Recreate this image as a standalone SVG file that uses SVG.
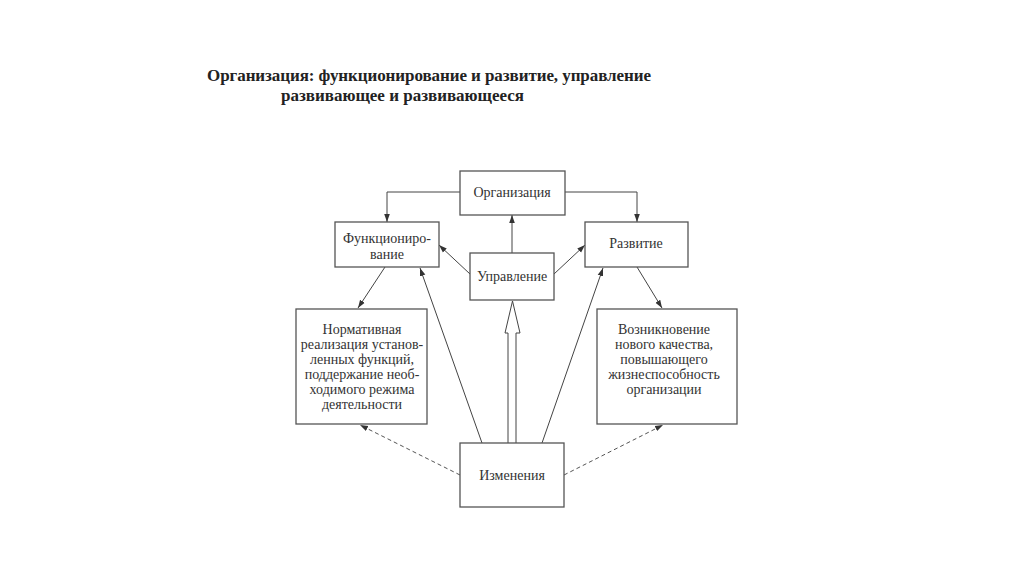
<svg xmlns="http://www.w3.org/2000/svg" width="1024" height="576" viewBox="0 0 1024 576">
<defs>
<style>
.box{fill:#fff;stroke:#555;stroke-width:1.3}
.t{font-family:"Liberation Serif","DejaVu Serif",serif;font-size:14px;fill:#333;text-anchor:middle}
.title{font-family:"Liberation Serif","DejaVu Serif",serif;font-size:17px;font-weight:bold;fill:#222}
.ln{fill:none;stroke:#444;stroke-width:1}
.dash{fill:none;stroke:#555;stroke-width:1;stroke-dasharray:4 3}
</style>
<marker id="ah" viewBox="0 0 10 10" refX="10" refY="5" markerWidth="8" markerHeight="8" orient="auto" markerUnits="userSpaceOnUse">
<path d="M0,1.5 L10,5 L0,8.5 Z" fill="#333"/>
</marker>
</defs>
<rect width="1024" height="576" fill="#fff"/>
<text class="title" x="207" y="81" textLength="444">Организация: функционирование и развитие, управление</text>
<text class="title" x="281" y="101">развивающее и развивающееся</text>

<g id="connectors">
<polyline class="ln" points="460,192 387,192 387,222" marker-end="url(#ah)"/>
<polyline class="ln" points="565,192 637,192 637,222" marker-end="url(#ah)"/>
<line class="ln" x1="512" y1="253" x2="512" y2="215" marker-end="url(#ah)"/>
<line class="ln" x1="470" y1="274" x2="439" y2="245" marker-end="url(#ah)"/>
<line class="ln" x1="554" y1="274" x2="585" y2="245" marker-end="url(#ah)"/>
<line class="ln" x1="385" y1="267" x2="358" y2="308" marker-end="url(#ah)"/>
<line class="ln" x1="637" y1="267" x2="662" y2="308" marker-end="url(#ah)"/>
<line class="ln" x1="482" y1="443" x2="420" y2="268" marker-end="url(#ah)"/>
<line class="ln" x1="542" y1="443" x2="603" y2="268" marker-end="url(#ah)"/>
<line class="dash" x1="460" y1="475" x2="360" y2="425" marker-end="url(#ah)"/>
<line class="dash" x1="564" y1="475" x2="663" y2="425" marker-end="url(#ah)"/>
<path d="M508,443 L508,333 L505,333 L512.5,301 L520,333 L516,333 L516,443" fill="#fff" stroke="#444" stroke-width="1"/>
</g>

<g id="org">
<rect class="box" x="460" y="171" width="105" height="44"/>
<text class="t" x="512" y="197">Организация</text>
</g>
<g id="func">
<rect class="box" x="335" y="222" width="104" height="45"/>
<text class="t" x="387" y="243">Функциониро-</text>
<text class="t" x="387" y="259">вание</text>
</g>
<g id="razv">
<rect class="box" x="585" y="222" width="103" height="45"/>
<text class="t" x="636" y="248">Развитие</text>
</g>
<g id="upr">
<rect class="box" x="470" y="253" width="84" height="47"/>
<text class="t" x="512" y="281">Управление</text>
</g>
<g id="norm">
<rect class="box" x="296" y="309" width="131" height="115"/>
<text class="t" x="362" y="334">Нормативная</text>
<text class="t" x="362" y="349">реализация установ-</text>
<text class="t" x="362" y="364">ленных функций,</text>
<text class="t" x="362" y="379">поддержание необ-</text>
<text class="t" x="362" y="394">ходимого режима</text>
<text class="t" x="362" y="409">деятельности</text>
</g>
<g id="vozn">
<rect class="box" x="597" y="309" width="140" height="115"/>
<text class="t" x="664" y="334">Возникновение</text>
<text class="t" x="664" y="349">нового качества,</text>
<text class="t" x="664" y="364">повышающего</text>
<text class="t" x="664" y="379">жизнеспособность</text>
<text class="t" x="664" y="394">организации</text>
</g>
<g id="izm">
<rect class="box" x="460" y="443" width="104" height="64"/>
<text class="t" x="512" y="480">Изменения</text>
</g>
</svg>
